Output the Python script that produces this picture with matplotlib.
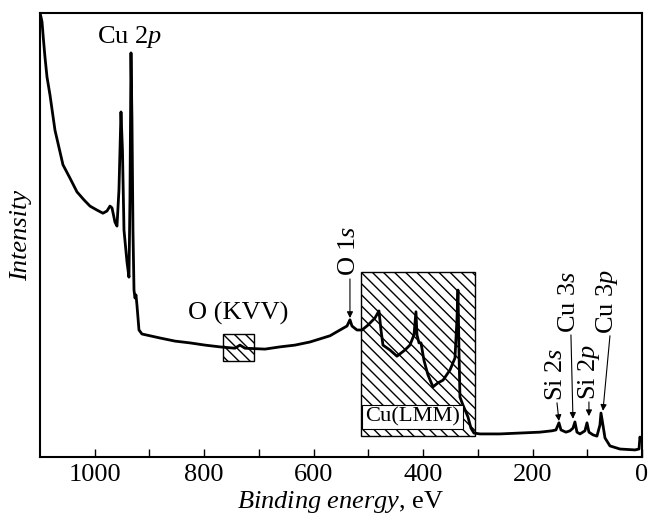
import numpy as np
import matplotlib
matplotlib.use('Agg')
import matplotlib.pyplot as plt
from matplotlib.patches import Rectangle

plt.rcParams['font.family'] = 'Liberation Serif'
plt.rcParams['mathtext.fontset'] = 'custom'
plt.rcParams['mathtext.rm'] = 'Liberation Serif'
plt.rcParams['mathtext.it'] = 'Liberation Serif:italic'
plt.rcParams['hatch.linewidth'] = 1.0

# survey spectrum (binding energy, eV / intensity, a.u.)
energy = [1099.1, 1096.3, 1093.6, 1090.9, 1087.2, 1081.7, 1072.6, 1058.0, 1045.2, 1032.4,
          1019.6, 1008.6, 995.8, 984.9, 977.6, 972.1, 968.4, 963.0, 959.3, 955.7,
          952.0, 949.3, 946.5, 941.0, 937.4, 935.6, 933.7, 931.9, 930.1, 928.2,
          926.4, 924.6, 922.8, 919.1, 913.6, 899.0, 880.7, 853.3, 825.9, 798.5,
          771.1, 743.7, 734.6, 725.4, 688.9, 661.5, 634.1, 606.7, 588.4, 570.1,
          551.8, 539.0, 533.6, 529.9, 520.8, 511.6, 500.7, 487.9, 480.6, 476.9,
          473.3, 460.5, 447.7, 433.1, 424.0, 416.6, 413.0, 411.1, 407.5, 403.8,
          398.4, 391.1, 381.9, 372.8, 363.6, 350.8, 341.7, 338.1, 336.2, 334.4,
          332.6, 327.1, 321.6, 317.9, 312.5, 307.0, 296.0, 259.5, 222.9, 186.4,
          164.5, 157.2, 151.7, 148.0, 138.9, 131.6, 126.1, 122.5, 118.8, 113.3,
          104.2, 100.5, 96.9, 89.6, 82.3, 76.8, 74.9, 71.3, 67.6, 58.5,
          40.2, 12.8, 5.4, 3.7, 1.8]
intensity = [99.6, 98.0, 93.9, 90.1, 85.6, 81.5, 73.6, 65.8, 62.8, 59.7,
             57.9, 56.5, 55.6, 54.9, 55.4, 56.5, 56.1, 52.9, 52.0, 60.1,
             77.7, 69.1, 51.1, 43.9, 40.5, 57.9, 91.0, 75.9, 51.1, 37.6,
             35.8, 36.5, 34.2, 28.6, 27.7, 27.3, 26.8, 26.1, 25.7, 25.2,
             24.8, 24.5, 25.2, 24.5, 24.3, 24.8, 25.2, 25.9, 26.6, 27.3,
             28.6, 29.5, 30.9, 29.5, 28.6, 28.6, 29.7, 31.3, 32.9, 28.6,
             25.2, 24.1, 22.7, 24.1, 25.2, 27.5, 32.7, 27.5, 25.7, 25.7,
             21.8, 18.5, 15.8, 16.7, 17.3, 19.6, 22.3, 30.9, 37.6, 24.1,
             13.5, 11.7, 10.1, 9.0, 6.5, 5.4, 5.2, 5.2, 5.4, 5.6,
             5.9, 6.1, 7.7, 6.1, 5.6, 5.9, 6.5, 7.9, 5.6, 5.2,
             5.9, 7.7, 5.6, 5.0, 4.7, 7.2, 9.9, 7.2, 4.3, 2.5,
             1.8, 1.6, 1.8, 4.5, 3.8]

# rotated peak labels: text, text x, text bottom, arrow start, arrow tip
side_labels = ['O 1$s$', 'Si 2$s$', 'Cu 3$s$', 'Si 2$p$', 'Cu 3$p$']
side_text_x = [536.0, 158.0, 133.0, 97.0, 63.0]
side_text_y = [40.8, 12.6, 28.0, 12.8, 27.8]
arrow_from = [(533.6, 40.1), (155.3, 12.2), (129.8, 27.5), (96.9, 12.4), (58.5, 27.3)]
arrow_to = [(533.6, 31.3), (151.7, 8.1), (126.1, 8.6), (96.9, 9.2), (71.3, 10.4)]

# hatched regions (E high, E low, I low, I high)
lmm_box = (513.5, 305.0, 4.7, 41.7)
kvv_box = (766.0, 709.0, 21.6, 27.7)

fig = plt.figure(figsize=(6.48, 5.21), dpi=100)
ax = fig.add_axes([0.0617, 0.1228, 0.929, 0.8524])

for e_hi, e_lo, i_lo, i_hi in [lmm_box, kvv_box]:
    ax.add_patch(Rectangle((e_lo, i_lo), e_hi - e_lo, i_hi - i_lo, facecolor='none',
                           edgecolor='black', hatch='\\\\\\', lw=1.0, zorder=1))

ax.plot(energy, intensity, color='black', lw=2.0, zorder=3)

ax.text(419.5, 9.0, 'Cu(LMM)', fontsize=16.2, ha='center', va='center', zorder=4,
        bbox=dict(boxstyle='square,pad=0.12', fc='white', ec='black', lw=0.8))

ax.text(935.6, 94.6, 'Cu 2$p$', fontsize=19, ha='center', va='center')
ax.text(738.2, 32.4, 'O (KVV)', fontsize=19, ha='center', va='center')

for lab, tx, ty, a0, a1 in zip(side_labels, side_text_x, side_text_y, arrow_from, arrow_to):
    ax.text(tx, ty, lab, fontsize=19, rotation=90, ha='center', va='bottom')
    ax.annotate('', xy=a1, xytext=a0,
                arrowprops=dict(arrowstyle='-|>', color='black', lw=0.8,
                                mutation_scale=9, shrinkA=0, shrinkB=0))

ax.set_xlim(1100, 0)
ax.set_ylim(0, 100)
ax.set_xticks([1000, 800, 600, 400, 200, 0])
ax.set_xticks([900, 700, 500, 300, 100], minor=True)
ax.set_yticks([])
ax.tick_params(axis='x', which='both', direction='in', length=6, width=1.0,
               labelsize=19, pad=5)
for s in ax.spines.values():
    s.set_linewidth(1.5)

ax.set_xlabel('$Binding\\ energy$, eV', fontsize=19, labelpad=2)
ax.set_ylabel('Intensity', fontsize=19, fontstyle='italic', labelpad=6)

fig.savefig('out.png', dpi=100)
